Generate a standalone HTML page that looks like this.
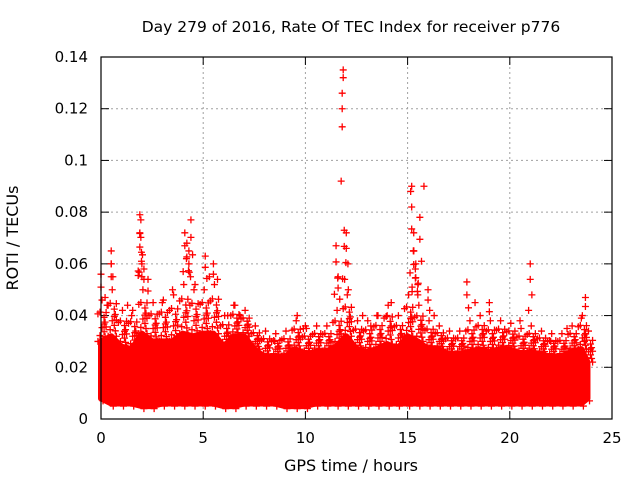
<!DOCTYPE html>
<html><head><meta charset="utf-8"><style>
body{margin:0;background:#fff;}
svg{display:block;font-family:"DejaVu Sans","Liberation Sans",sans-serif;}
</style></head><body>
<svg id="chart" width="640" height="480">
<text x="351" y="32" font-size="15.5" text-anchor="middle">Day 279 of 2016, Rate Of TEC Index for receiver p776</text>
<text x="351" y="471" font-size="16" text-anchor="middle">GPS time / hours</text>
<text transform="translate(18,238) rotate(-90)" font-size="16" text-anchor="middle">ROTI / TECUs</text>
<g id="grid"></g>
<g id="axes"></g>
<g id="band"></g>
<g id="pts"></g>
<rect x="101" y="57" width="511" height="362" fill="none" stroke="#000" stroke-width="1.2"/>
</svg>
<script>
const xTicks=[0,5,10,15,20,25];
const yTicks=[0,0.02,0.04,0.06,0.08,0.1,0.12,0.14];
const yTickLabels=["0","0.02","0.04","0.06","0.08","0.1","0.12","0.14"];
const bandTimes=[0,0.5,1,1.5,2,2.5,3,3.5,4,4.5,5,5.5,6,6.5,7,7.5,8,8.5,9,9.5,10,10.5,11,11.5,12,12.5,13,13.5,14,14.5,15,15.5,16,16.5,17,17.5,18,18.5,19,19.5,20,20.5,21,21.5,22,22.5,23,23.5,23.8];
const bandLower=[0.008,0.006,0.006,0.006,0.005,0.005,0.006,0.006,0.006,0.006,0.006,0.006,0.005,0.005,0.006,0.006,0.006,0.006,0.005,0.005,0.005,0.006,0.006,0.006,0.006,0.006,0.006,0.006,0.006,0.006,0.006,0.006,0.006,0.006,0.006,0.006,0.006,0.006,0.006,0.006,0.006,0.006,0.006,0.006,0.006,0.006,0.006,0.006,0.008];
const bandCore=[0.03,0.032,0.028,0.027,0.033,0.03,0.03,0.03,0.033,0.032,0.033,0.033,0.028,0.032,0.032,0.027,0.024,0.024,0.024,0.027,0.025,0.026,0.026,0.028,0.032,0.027,0.026,0.027,0.029,0.027,0.032,0.03,0.027,0.027,0.025,0.025,0.026,0.027,0.026,0.027,0.027,0.025,0.026,0.025,0.024,0.024,0.026,0.027,0.022];
const bandUpper=[0.046,0.05,0.042,0.042,0.05,0.045,0.046,0.048,0.052,0.05,0.05,0.052,0.04,0.044,0.042,0.036,0.034,0.033,0.034,0.038,0.035,0.036,0.036,0.042,0.048,0.038,0.038,0.04,0.044,0.04,0.048,0.044,0.038,0.036,0.034,0.034,0.038,0.04,0.038,0.038,0.037,0.035,0.036,0.034,0.033,0.033,0.036,0.04,0.034];
const spikeTimes=[11.85,11.85,11.8,11.8,11.8,11.75,11.5,11.9,12,15.2,15.15,15.2,15.3,15.8,15.6,15.3,15.4,1.9,1.95,1.9,4.4,4.1,4.2,4.3,0.5,0.5,0,0.2,5.1,5.5,5.3,2,2.3,21,17.9,18.3,20.5,23.7,23.5,12.8,14.2,14,6.5,6.8,9.6,10,16,16.3,19,3,3.5,1.5,8.5,13.5,22,22.8,1.3,2.1,4.6,5.7,11.6,12.1,15.5,0.3,6.2,9.9,13.2];
const spikeValues=[0.135,0.132,0.126,0.12,0.113,0.092,0.067,0.073,0.072,0.09,0.088,0.082,0.072,0.09,0.078,0.065,0.06,0.079,0.077,0.072,0.077,0.072,0.068,0.065,0.065,0.06,0.056,0.047,0.063,0.06,0.055,0.06,0.054,0.06,0.053,0.045,0.038,0.047,0.039,0.04,0.045,0.04,0.044,0.04,0.04,0.036,0.05,0.04,0.045,0.045,0.05,0.04,0.03,0.04,0.03,0.035,0.044,0.058,0.052,0.054,0.055,0.05,0.052,0.044,0.04,0.035,0.036];
const X0=101,X1=612,Y0=419,Y1=57;
const xs=t=>X0+(t-0)/(25-0)*(X1-X0);
const ys=v=>Y0-(v-0)/(0.14)*(Y0-Y1);
const NS="http://www.w3.org/2000/svg";
function mk(tag,attrs,parent){const e=document.createElementNS(NS,tag);for(const k in attrs)e.setAttribute(k,attrs[k]);parent.appendChild(e);return e;}
const grid=document.getElementById('grid'),axes=document.getElementById('axes');
xTicks.forEach((t,i)=>{const x=xs(t);
 if(i>0&&i<xTicks.length-1){const l=mk('line',{x1:x,x2:x,y1:Y0,y2:Y1,stroke:'#a0a0a0','stroke-dasharray':'2,3'},grid);}
 mk('line',{x1:x,x2:x,y1:Y0,y2:Y0-8,stroke:'#000'},axes);mk('line',{x1:x,x2:x,y1:Y1,y2:Y1+8,stroke:'#000'},axes);
 const tx=mk('text',{x:x,y:443,'font-size':15,'text-anchor':'middle'},axes);tx.textContent=t;
 });
yTicks.forEach((v,i)=>{const y=ys(v);
 if(i>0&&i<yTicks.length-1){const l=mk('line',{x1:X0,x2:X1,y1:y,y2:y,stroke:'#a0a0a0','stroke-dasharray':'2,3'},grid);}
 mk('line',{x1:X0,x2:X0+8,y1:y,y2:y,stroke:'#000'},axes);mk('line',{x1:X1,x2:X1-8,y1:y,y2:y,stroke:'#000'},axes);
 const tx=mk('text',{x:88,y:y+5,'font-size':15,'text-anchor':'end'},axes);tx.textContent=yTickLabels[i];
 });
const band=document.getElementById('band');
let d='M'+bandTimes.map((t,i)=>xs(t)+','+ys(bandCore[i])).join(' L');
d+=' L'+bandTimes.slice().reverse().map((t,j)=>{const i=bandTimes.length-1-j;return xs(t)+','+ys(bandLower[i]);}).join(' L')+'Z';
const poly=mk('path',{d:d,fill:'#ff0000',stroke:'#ff0000','stroke-width':6,'stroke-linejoin':'round'},band);

const pts=document.getElementById('pts');
function plus(t,v,col){const x=xs(t),y=ys(v);
 const p=mk('path',{d:`M${x-3.5},${y}H${x+3.5}M${x},${y-3.5}V${y+3.5}`,stroke:col,'stroke-width':1.3},pts);
 }
function upperAt(t){let i=Math.min(bandTimes.length-1,Math.max(0,Math.round(t*2)));return bandUpper[i];}
bandTimes.forEach((t,i)=>{
 const u=bandUpper[i],c=bandCore[i];
 for(let k=0;k<=6;k++){const f=k/6;plus(t-0.15+0.1*(k%4),c+(u-c)*f*(k%2?0.85:1),'#ff0000');plus(t+0.25-0.05*(k%3),c+(u-c)*f*0.7,'#ff0000');}
 plus(t+0.1,bandLower[i]-0.001,'#ff0000');
});
spikeTimes.forEach((t,i)=>{
 const v=spikeValues[i],u=upperAt(t);
 plus(t,v,'#ff0000');
 if(v>u&&v<0.085){const n=Math.min(4,Math.ceil((v-u)/0.006));for(let k=1;k<n;k++){plus(t+0.08*((k%3)-1),v-(v-u)*k/n,'#ff0000');}}
});
</script>
</body></html>
